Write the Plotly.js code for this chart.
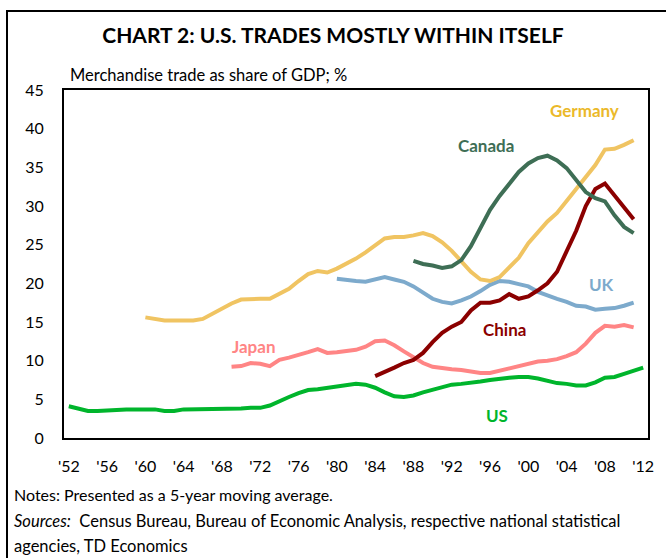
<!DOCTYPE html>
<html>
<head>
<meta charset="utf-8">
<script src="https://cdn.plot.ly/plotly-3.0.1.min.js"></script>
<style>
  html, body { margin: 0; padding: 0; background: #fff; }
  #chart { width: 666px; height: 558px; }
</style>
</head>
<body>
<div id="chart"></div>
<script>
// ---- Data (merchandise trade as share of GDP, %; 5-yr moving average) ----
const usYears = [];
for (let y = 1952; y <= 2012; y++) usYears.push(y);
const usValues = [4.1, 3.8, 3.5, 3.5, 3.6, 3.7, 3.7, 3.7, 3.7, 3.7,
  3.5, 3.5, 3.7, 3.7, 3.7, 3.7, 3.8, 3.7, 3.8, 3.9,
  3.9, 4.2, 4.8, 5.3, 5.8, 6.2, 6.3, 6.5, 6.7, 6.9,
  7.0, 6.9, 6.5, 5.9, 5.4, 5.3, 5.5, 5.9, 6.2, 6.6,
  6.9, 7.0, 7.1, 7.3, 7.5, 7.7, 7.8, 7.9, 7.9, 7.7,
  7.4, 7.1, 7.0, 6.8, 6.8, 7.2, 7.8, 7.9, 8.3, 8.7, 9.1];

const germanyYears = [];
for (let y = 1960; y <= 2011; y++) germanyYears.push(y);
const germanyValues = [15.6, 15.4, 15.2, 15.2, 15.2, 15.2, 15.4, 16.1, 16.8, 17.4,
  17.9, 18.0, 18.0, 18.0, 18.7, 19.3, 20.3, 21.2, 21.6, 21.4,
  21.9, 22.5, 23.2, 24.0, 24.9, 25.8, 26.0, 26.0, 26.2, 26.5,
  26.1, 25.3, 24.2, 22.8, 21.5, 20.5, 20.3, 20.8, 22.0, 23.3,
  25.2, 26.6, 28.0, 29.1, 30.6, 32.1, 33.6, 35.3, 37.3, 37.4, 37.9, 38.5];

const canadaYears = [];
for (let y = 1988; y <= 2011; y++) canadaYears.push(y);
const canadaValues = [22.9, 22.5, 22.3, 22.0, 22.2, 23.0, 24.8, 27.2, 29.5, 31.3,
  32.9, 34.4, 35.5, 36.2, 36.5, 35.9, 34.9, 33.3, 31.8, 31.0,
  30.6, 28.8, 27.3, 26.5];

const chinaYears = [];
for (let y = 1984; y <= 2011; y++) chinaYears.push(y);
const chinaValues = [8.0, 8.5, 9.1, 9.7, 10.1, 11.0, 12.4, 13.6, 14.4, 15.0,
  16.5, 17.5, 17.5, 17.8, 18.6, 18.0, 18.3, 19.1, 20.0, 21.5,
  24.2, 26.8, 30.0, 32.2, 32.9, 31.4, 30.0, 28.3];

const ukYears = [];
for (let y = 1980; y <= 2011; y++) ukYears.push(y);
const ukValues = [20.6, 20.4, 20.3, 20.2, 20.5, 20.8, 20.5, 20.2, 19.6, 18.8,
  18.0, 17.6, 17.4, 17.8, 18.3, 19.0, 19.8, 20.3, 20.2, 19.9,
  19.6, 18.9, 18.4, 18.0, 17.6, 17.1, 17.0, 16.6, 16.7, 16.8, 17.1, 17.5];

const japanYears = [];
for (let y = 1969; y <= 2011; y++) japanYears.push(y);
const japanValues = [9.2, 9.3, 9.7, 9.6, 9.3, 10.1, 10.4, 10.7, 11.1, 11.5,
  11.0, 11.1, 11.2, 11.4, 11.8, 12.5, 12.6, 12.0, 11.2, 10.4,
  9.7, 9.2, 9.0, 8.9, 8.8, 8.6, 8.4, 8.4, 8.7, 9.0,
  9.3, 9.7, 9.9, 10.0, 10.2, 10.6, 11.1, 12.2, 13.6, 14.5, 14.4, 14.6, 14.3];

const tickYears = [1952, 1956, 1960, 1964, 1968, 1972, 1976, 1980, 1984, 1988, 1992, 1996, 2000, 2004, 2008, 2012];
const tickLabels = ["'52", "'56", "'60", "'64", "'68", "'72", "'76", "'80", "'84", "'88", "'92", "'96", "'00", "'04", "'08", "'12"];

const FONT = "Lato, 'Open Sans', sans-serif";

function line(name, x, y, color) {
  return { type: 'scatter', mode: 'lines', name: name, x: x, y: y,
    line: { color: color, width: 4 }, hoverinfo: 'skip' };
}

const traces = [
  line('US', usYears, usValues, '#00B52C'),
  line('Japan', japanYears, japanValues, '#FF8585'),
  line('UK', ukYears, ukValues, '#7DAACC'),
  line('China', chinaYears, chinaValues, '#8B0000'),
  line('Germany', germanyYears, germanyValues, '#F0C462'),
  line('Canada', canadaYears, canadaValues, '#3E6E55')
];

function seriesLabel(text, x, y, color) {
  return { text: '<b>' + text + '</b>', x: x, y: y, xref: 'x', yref: 'y',
    showarrow: false, font: { family: FONT, size: 17, color: color },
    xanchor: 'center', yanchor: 'middle' };
}

const layout = {
  width: 666, height: 558,
  margin: { l: 64, r: 18, t: 90, b: 120 },
  paper_bgcolor: '#fff', plot_bgcolor: '#fff',
  showlegend: false,
  font: { family: FONT, size: 16, color: '#000' },
  title: { text: '<b>CHART 2: U.S. TRADES MOSTLY WITHIN ITSELF</b>',
    xref: 'container', yref: 'container', x: 0.5, y: 1 - 36 / 558,
    xanchor: 'center', yanchor: 'middle',
    font: { family: FONT, size: 21, color: '#000' } },
  xaxis: {
    range: [1951.5, 2012.5], tickmode: 'array', tickvals: tickYears, ticktext: tickLabels,
    showgrid: false, zeroline: false, showline: true, linecolor: '#000', linewidth: 2,
    mirror: true, ticks: '', ticklabelstandoff: 13,
    tickfont: { family: FONT, size: 16, color: '#000' }
  },
  yaxis: {
    range: [0, 45], tickmode: 'linear', tick0: 0, dtick: 5,
    showgrid: false, zeroline: false, showline: true, linecolor: '#000', linewidth: 2,
    mirror: true, ticks: '', ticklabelstandoff: 15,
    tickfont: { family: FONT, size: 16, color: '#000' }
  },
  shapes: [
    { type: 'rect', xref: 'paper', yref: 'paper', x0: -0.0976, x1: 1.2, y0: -0.6, y1: 1.227,
      line: { color: '#000', width: 2 }, fillcolor: 'rgba(0,0,0,0)' }
  ],
  annotations: [
    { text: 'Merchandise trade as share of GDP; %', xref: 'paper', yref: 'paper',
      x: 4 / 584, y: (438 - 75) / 348, xanchor: 'left', yanchor: 'middle', showarrow: false,
      font: { family: FONT, size: 16.5, color: '#000' } },
    seriesLabel('Germany', 2005.9, 42.4, '#EBB92A'),
    seriesLabel('Canada', 1995.6, 37.8, '#3E6E55'),
    seriesLabel('UK', 2007.6, 19.9, '#7DAACC'),
    seriesLabel('China', 1997.5, 14.0, '#8B0000'),
    seriesLabel('Japan', 1971.3, 11.8, '#FF8585'),
    seriesLabel('US', 1996.7, 2.85, '#00B52C'),
    { text: 'Notes: Presented as a 5-year moving average.', xref: 'paper', yref: 'paper',
      x: (12 - 64) / 584, y: (438 - 494) / 348, xanchor: 'left', yanchor: 'middle', showarrow: false,
      font: { family: FONT, size: 16, color: '#000' } },
    { text: '<i>Sources:</i>  Census Bureau, Bureau of Economic Analysis, respective national statistical',
      xref: 'paper', yref: 'paper',
      x: (12 - 64) / 584, y: (438 - 521) / 348, xanchor: 'left', yanchor: 'middle', showarrow: false,
      font: { family: FONT, size: 16.5, color: '#000' } },
    { text: 'agencies, TD Economics', xref: 'paper', yref: 'paper',
      x: (12 - 64) / 584, y: (438 - 546) / 348, xanchor: 'left', yanchor: 'middle', showarrow: false,
      font: { family: FONT, size: 16.5, color: '#000' } }
  ]
};

Plotly.newPlot('chart', traces, layout, { staticPlot: true, displayModeBar: false });
</script>
</body>
</html>
